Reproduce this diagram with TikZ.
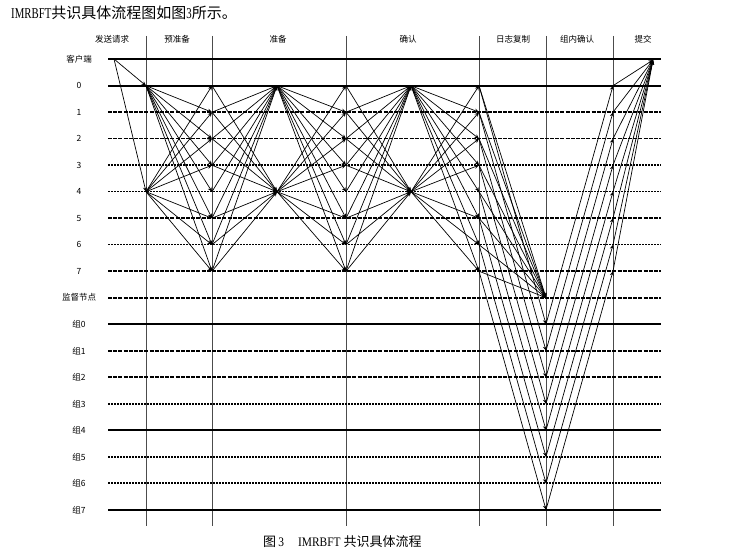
\documentclass[tikz,border=0pt]{standalone}
\usepackage{fontspec}
\setmainfont{Liberation Serif}
\newfontfamily\cjk{Noto Sans CJK SC}
\newfontfamily\titlefont[FakeStretch=0.72]{Liberation Serif}
\newfontfamily\capfont[FakeStretch=0.88]{Liberation Serif}
\usepackage{tikz}
\usetikzlibrary{arrows.meta}

\tikzset{
  solidrow/.style={line width=1.7pt},
  dashrow/.style={line width=1.6pt, dash pattern=on 4pt off 1.2pt},
  dotrow/.style={line width=1.6pt, dash pattern=on 2pt off 1pt},
  phase/.style={black!70, line width=0.8pt},
  msg/.style={line width=0.7pt, -{Stealth[length=4.5pt,width=4pt]}},
  hd/.style={font=\cjk\fontsize{8.5}{9}\selectfont},
  lab/.style={font=\cjk\fontsize{8.5}{9}\selectfont}
}

\begin{document}
\begin{tikzpicture}[x=1pt,y=-1pt]
  \def\dy{26.5}
  \useasboundingbox (0,0) rectangle (731,556);

  \node[anchor=base west, inner sep=0pt] (title) at (11,18.5)
    {\fontsize{15}{15}\selectfont\titlefont IMRBFT{\cjk 共识具体流程图如图}3{\cjk 所示。}};

  \foreach \x in {146,212,346,479,546,613}
    \draw[phase] (\x,36) -- (\x,526);

  \node[hd] (hd-send) at (112,39) {发送请求};
  \node[hd] (hd-pre) at (177,39) {预准备};
  \node[hd] (hd-prep) at (278,39) {准备};
  \node[hd] (hd-conf) at (408,39) {确认};
  \node[hd] (hd-log) at (513,39) {日志复制};
  \node[hd] (hd-grp) at (577,39) {组内确认};
  \node[hd] (hd-cmt) at (643,39) {提交};

  \coordinate (cl-w) at (108,59);
  \coordinate (cl-e) at (661,59);
  \draw[solidrow] (cl-w) -- (cl-e);
  \node[lab] (lab-cl) at (79,59) {客户端};

  \foreach \i/\sty in {0/solidrow,1/dashrow,2/dashrow,3/dotrow,4/dotrow,5/dashrow,
      6/dotrow,7/dashrow,8/dashrow,9/solidrow,10/dashrow,11/dashrow,12/dotrow,
      13/solidrow,14/dotrow,15/dotrow,16/solidrow}{
    \pgfmathsetmacro\yy{85.7+\dy*\i}
    \coordinate (row-\i-w) at (108,\yy);
    \coordinate (row-\i-e) at (661,\yy);
    \draw[\sty] (row-\i-w) -- (row-\i-e);
  }

  \foreach \i/\txt in {0/0,1/1,2/2,3/3,4/4,5/5,6/6,7/7,8/监督节点,9/组0,10/组1,
      11/组2,12/组3,13/组4,14/组5,15/组6,16/组7}{
    \pgfmathsetmacro\yy{85.7+\dy*\i}
    \node[lab] (lab-\i) at (79,\yy) {\txt};
  }

  \foreach \r in {0,...,7}{
    \pgfmathsetmacro\yy{85.7+\dy*\r}
    \pgfmathsetmacro\yg{85.7+\dy*(9+\r)}
    \coordinate (pre-\r) at (146,\yy);
    \coordinate (pp-\r) at (212,\yy);
    \coordinate (pr-\r) at (277,\yy);
    \coordinate (pc-\r) at (346,\yy);
    \coordinate (cm-\r) at (411,\yy);
    \coordinate (lg-\r) at (479,\yy);
    \coordinate (cf-\r) at (613,\yy);
    \coordinate (grp-\r) at (546,\yg);
  }
  \coordinate (sup) at (546,297.7);
  \coordinate (cl-a) at (114,59);
  \coordinate (cl-b) at (653,60);

  \draw[msg] (cl-a) -- (pre-0);
  \draw[msg] (cl-a) -- (pre-4);

  \foreach \j in {1,...,7}{
    \draw[msg] (pre-0) -- (pp-\j);
    \draw[msg] (pp-\j) -- (pr-0);
    \draw[msg] (pr-0) -- (pc-\j);
    \draw[msg] (pc-\j) -- (cm-0);
    \draw[msg] (cm-0) -- (lg-\j);
  }
  \foreach \j in {0,1,2,3,5,6,7}{
    \draw[msg] (pre-4) -- (pp-\j);
    \draw[msg] (pp-\j) -- (pr-4);
    \draw[msg] (pr-4) -- (pc-\j);
    \draw[msg] (pc-\j) -- (cm-4);
    \draw[msg] (cm-4) -- (lg-\j);
  }

  \foreach \j in {0,...,7}{
    \draw[msg] (lg-\j) -- (sup);
    \draw[msg] (lg-\j) -- (grp-\j);
    \draw[msg] (grp-\j) -- (cf-\j);
    \draw[msg] (cf-\j) -- (cl-b);
  }

  \node[anchor=base west, inner sep=0pt] (caption) at (263,546)
    {\fontsize{13}{13}\selectfont\capfont{\cjk 图}\,3\hspace{14pt}IMRBFT {\cjk 共识具体流程}};
\end{tikzpicture}
\end{document}
